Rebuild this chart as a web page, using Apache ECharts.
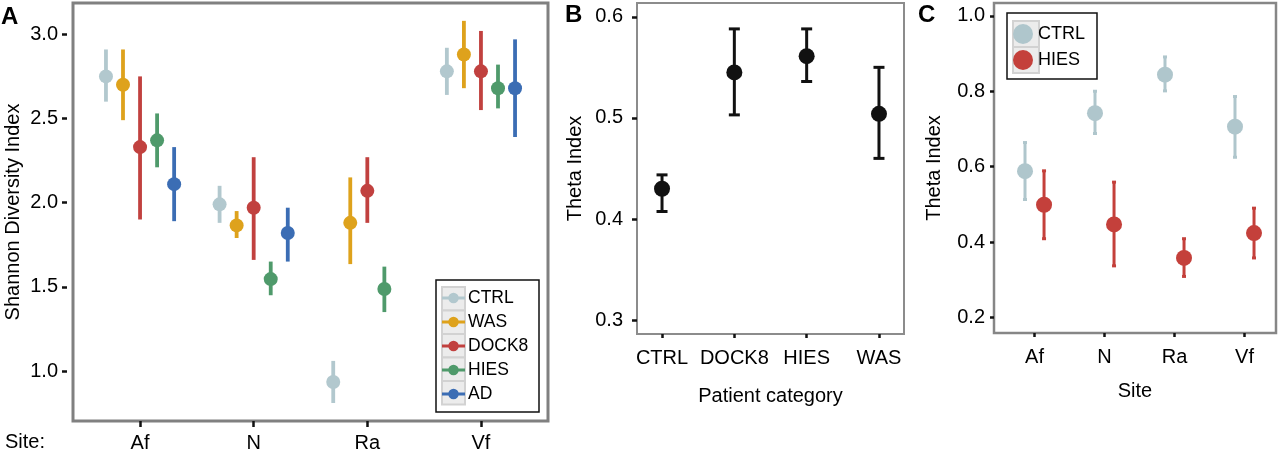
<!DOCTYPE html>
<html>
<head>
<meta charset="utf-8">
<script src="https://cdn.jsdelivr.net/npm/echarts@6/dist/echarts.min.js"></script>
<style>
  html, body { margin: 0; padding: 0; background: #fff; }
  #chart { width: 1280px; height: 453px; }
</style>
</head>
<body>
<div id="chart"></div>
<script>
// ---- data (mean, low, high) ----
var sites = ['Af', 'N', 'Ra', 'Vf'];
var groupsA = ['CTRL', 'WAS', 'DOCK8', 'HIES', 'AD'];
var colorsA = ['#b2c8ce', '#dea21c', '#c1413f', '#4f9a6b', '#3b6db4'];
var dodgeA = [-0.3, -0.15, 0, 0.15, 0.3];

var ctrlA  = [[2.75, 2.60, 2.91], [1.99, 1.88, 2.10], [0.935, 0.81, 1.06], [2.78, 2.64, 2.92]];
var wasA   = [[2.70, 2.49, 2.91], [1.865, 1.79, 1.95], [1.88, 1.635, 2.15], [2.88, 2.68, 3.08]];
var dock8A = [[2.33, 1.90, 2.75], [1.97, 1.66, 2.27], [2.07, 1.88, 2.27], [2.78, 2.55, 3.02]];
var hiesA  = [[2.37, 2.21, 2.53], [1.546, 1.45, 1.65], [1.487, 1.35, 1.62], [2.68, 2.56, 2.82]];
var adA    = [[2.11, 1.89, 2.33], [1.82, 1.65, 1.97], null, [2.68, 2.39, 2.97]];
var ticksA = [1.0, 1.5, 2.0, 2.5, 3.0];

var patientB = ['CTRL', 'DOCK8', 'HIES', 'WAS'];
var thetaB = [[0.430, 0.4075, 0.4437], [0.545, 0.503, 0.588], [0.561, 0.536, 0.588], [0.504, 0.460, 0.550]];
var ticksB = [0.3, 0.4, 0.5, 0.6];

var groupsC = ['CTRL', 'HIES'];
var colorsC = ['#afc6cc', '#c4403b'];
var dodgeC = [-0.136, 0.136];
var ctrlC = [[0.588, 0.513, 0.664], [0.742, 0.688, 0.800], [0.844, 0.801, 0.891], [0.706, 0.625, 0.786]];
var hiesC = [[0.499, 0.409, 0.589], [0.447, 0.337, 0.559], [0.358, 0.309, 0.409], [0.424, 0.358, 0.490]];
var ticksC = [0.2, 0.4, 0.6, 0.8, 1.0];

var FONT = 'Liberation Sans, Arial, Helvetica, sans-serif';
var myChart = echarts.init(document.getElementById('chart'));

// vertical error bar drawn through the axes
function errorBars(idx, data, color, width, cap) {
    return {
        type: 'custom',
        xAxisIndex: idx,
        yAxisIndex: idx,
        data: data,
        encode: { x: 0, y: [1, 2] },
        z: 2,
        silent: true,
        renderItem: function(params, api) {
            var x = api.value(0);
            var top = api.coord([x, api.value(2)]);
            var bot = api.coord([x, api.value(1)]);
            var style = { stroke: color, lineWidth: width };
            var kids = [{ type: 'line', shape: { x1: top[0], y1: top[1], x2: bot[0], y2: bot[1] }, style: style }];
            if (cap) {
                kids.push({ type: 'line', shape: { x1: top[0] - cap / 2, y1: top[1], x2: top[0] + cap / 2, y2: top[1] }, style: style });
                kids.push({ type: 'line', shape: { x1: bot[0] - cap / 2, y1: bot[1], x2: bot[0] + cap / 2, y2: bot[1] }, style: style });
            }
            return { type: 'group', children: kids };
        }
    };
}

function points(idx, name, data, color, size) {
    return {
        type: 'scatter',
        name: name,
        xAxisIndex: idx,
        yAxisIndex: idx,
        data: data,
        symbolSize: size,
        itemStyle: { color: color, opacity: 1 },
        z: 3,
        silent: true
    };
}

var series = [];
[ctrlA, wasA, dock8A, hiesA, adA].forEach(function(arr, g) {
    var bars = [], pts = [];
    arr.forEach(function(v, i) {
        if (!v) return;
        var x = i + 1 + dodgeA[g];
        bars.push([x, v[1], v[2]]);
        pts.push([x, v[0]]);
    });
    series.push(errorBars(0, bars, colorsA[g], 3.8, 0));
    series.push(points(0, groupsA[g], pts, colorsA[g], 14));
});

var barsB = [], ptsB = [];
thetaB.forEach(function(v, i) {
    barsB.push([i + 1, v[1], v[2]]);
    ptsB.push([i + 1, v[0]]);
});
series.push(errorBars(1, barsB, '#111', 3, 11));
series.push(points(1, 'theta', ptsB, '#111', 16));

[ctrlC, hiesC].forEach(function(arr, g) {
    var bars = [], pts = [];
    arr.forEach(function(v, i) {
        var x = i + 1 + dodgeC[g];
        bars.push([x, v[1], v[2]]);
        pts.push([x, v[0]]);
    });
    series.push(errorBars(2, bars, colorsC[g], 3, 4));
    series.push(points(2, 'C ' + groupsC[g], pts, colorsC[g], 16));
});

var tickLabel = { color: '#000', fontSize: 20, fontFamily: FONT };
var nameStyle = { color: '#000', fontSize: 20, fontFamily: FONT };

function xAxisFor(idx, min, max, labels, tickLen, margin, name, nameGap) {
    return {
        type: 'value', gridIndex: idx, min: min, max: max,
        name: name, nameLocation: 'middle', nameGap: nameGap, nameTextStyle: nameStyle,
        axisLine: { show: false },
        splitLine: { show: false },
        axisTick: { show: true, length: tickLen, customValues: [1, 2, 3, 4], lineStyle: { color: '#111', width: 2.5 } },
        axisLabel: Object.assign({ margin: margin, customValues: [1, 2, 3, 4],
            formatter: function(v) { return labels[Math.round(v) - 1] || ''; } }, tickLabel)
    };
}

function yAxisFor(idx, min, max, ticks, tickLen, margin, name, nameGap, offset) {
    return {
        type: 'value', gridIndex: idx, min: min, max: max, offset: offset || 0,
        name: name, nameLocation: 'middle', nameGap: nameGap, nameTextStyle: nameStyle,
        axisLine: { show: false },
        splitLine: { show: false },
        axisTick: { show: true, length: tickLen, customValues: ticks, lineStyle: { color: '#111', width: 2.5 } },
        axisLabel: Object.assign({ margin: margin, customValues: ticks,
            formatter: function(v) { return v.toFixed(1); } }, tickLabel)
    };
}

// legend key backgrounds (grey cells like ggplot)
function keyCells(x, y, w, h, n) {
    var out = [];
    for (var i = 0; i < n; i++) {
        out.push({ type: 'rect', shape: { x: x, y: y + i * h, width: w, height: h },
            style: { fill: '#ececec', stroke: '#d2d2d2', lineWidth: 2 }, z: -1 });
    }
    return out;
}

var linePin = 'path://M0,4.5H24V7.5H0Z M12,0.5A5.5,5.5,0,1,1,12,11.5A5.5,5.5,0,1,1,12,0.5Z';

var option = {
    backgroundColor: '#fff',
    animation: false,
    grid: [
        { left: 73, right: 732, top: 3, bottom: 32, show: true, borderColor: '#808080', borderWidth: 3, backgroundColor: 'transparent' },
        { left: 637, right: 376, top: 3, bottom: 119, show: true, borderColor: '#8c8c8c', borderWidth: 2, backgroundColor: 'transparent' },
        { left: 994, right: 4, top: 3, bottom: 120, show: true, borderColor: '#868686', borderWidth: 2.5, backgroundColor: 'transparent' }
    ],
    xAxis: [
        xAxisFor(0, 0.41, 4.59, sites, 6, 12, '', 0),
        xAxisFor(1, 0.654, 4.346, patientB, 4, 14, 'Patient category', 52),
        xAxisFor(2, 0.421, 4.45, sites, 4, 14, 'Site', 48)
    ],
    yAxis: [
        yAxisFor(0, 0.703, 3.186, ticksA, 5, 9, 'Shannon Diversity Index', 44, 6),
        yAxisFor(1, 0.2864, 0.6136, ticksB, 5, 14, 'Theta Index', 52),
        yAxisFor(2, 0.159, 1.034, ticksC, 4, 9, 'Theta Index', 50)
    ],
    legend: [
        {
            data: groupsA, orient: 'vertical', left: 442, top: 289,
            padding: 0, itemGap: 6, itemWidth: 23, itemHeight: 12,
            icon: linePin, selectedMode: false,
            textStyle: { color: '#000', fontSize: 17.5, fontFamily: FONT, padding: [0, 0, 0, -2] }
        },
        {
            data: groupsC.map(function(g) { return 'C ' + g; }), orient: 'vertical', left: 1013, top: 24,
            padding: 0, itemGap: 6, itemWidth: 26, itemHeight: 20,
            icon: 'circle', selectedMode: false,
            formatter: function(n) { return n.slice(2); },
            textStyle: { color: '#000', fontSize: 18, fontFamily: FONT, padding: [0, 0, 0, -3] }
        }
    ],
    graphic: [
        { type: 'rect', shape: { x: 436, y: 280, width: 103, height: 132 }, style: { fill: '#fff', stroke: '#111', lineWidth: 1.5 }, z: -2 }
    ].concat(keyCells(442, 287, 23, 23.5, 5)).concat([
        { type: 'rect', shape: { x: 1007, y: 13, width: 90, height: 66 }, style: { fill: '#fff', stroke: '#111', lineWidth: 1.5 }, z: -2 }
    ]).concat(keyCells(1013, 21, 26, 26, 2)).concat([
        { type: 'text', left: 1, top: 5, style: { text: 'A', fill: '#000', font: 'bold 24px ' + FONT } },
        { type: 'text', left: 565, top: 3, style: { text: 'B', fill: '#000', font: 'bold 24px ' + FONT } },
        { type: 'text', left: 918, top: 3, style: { text: 'C', fill: '#000', font: 'bold 24px ' + FONT } },
        { type: 'text', left: 5, top: 432, style: { text: 'Site:', fill: '#000', font: '20px ' + FONT } }
    ]),
    series: series
};

option && myChart.setOption(option);
</script>
</body>
</html>
